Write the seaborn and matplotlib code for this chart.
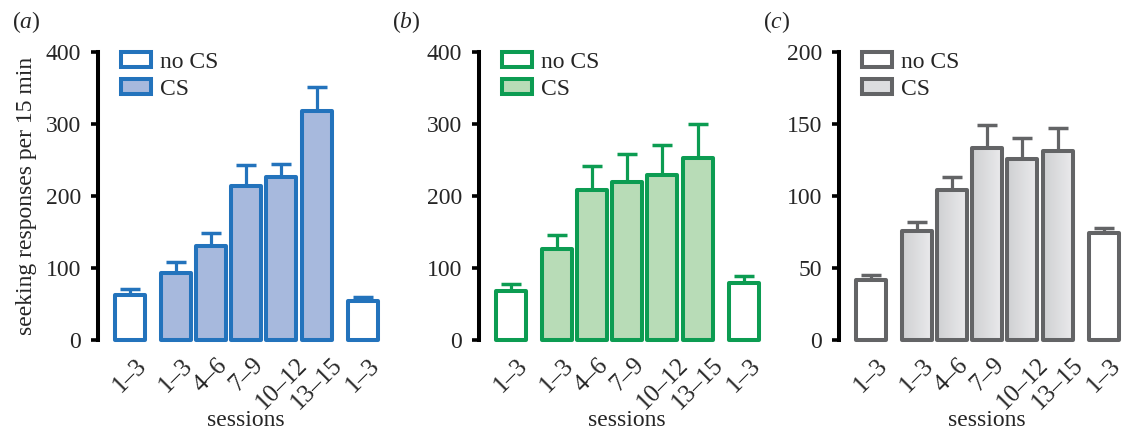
import matplotlib
matplotlib.use("Agg")
import matplotlib.pyplot as plt
from matplotlib.patches import Patch
from matplotlib.transforms import ScaledTranslation
import seaborn as sns
import numpy as np
import pandas as pd

# bars: no CS (first), CS sessions, no CS (last)
sessions = ["1–3", "1–3", "4–6", "7–9", "10–12", "13–15", "1–3"]
condition = ["no CS", "CS", "CS", "CS", "CS", "CS", "no CS"]

mean_a = [62, 93, 130, 214, 226, 318, 54]
sem_a = [9, 15, 18, 29, 19, 34, 6]
mean_b = [68, 127, 208, 219, 229, 253, 79]
sem_b = [10, 19, 34, 39, 42, 47, 10]
mean_c = [42, 76, 104, 133, 126, 131, 74]
sem_c = [3, 6, 9, 16, 14, 16, 4]

sns.set_style("white")
plt.rcParams['font.family'] = ['Liberation Serif', 'DejaVu Serif']
plt.rcParams['mathtext.fontset'] = 'custom'
plt.rcParams['mathtext.it'] = 'Liberation Serif:italic'
plt.rcParams['mathtext.rm'] = 'Liberation Serif'

# x positions, little gap between the no CS bars and the CS run
xpos = [0, 1.31, 2.31, 3.31, 4.31, 5.31, 6.62]

W, H = 1123, 432
fig = plt.figure(figsize=(W / 100, H / 100), dpi=100)

panels = [
    ("a", mean_a, sem_a, "#2373BC", "#A7B9DD", 400, 100, 98, 12),
    ("b", mean_b, sem_b, "#0C9C52", "#B8DCB7", 400, 100, 479, 392),
    ("c", mean_c, sem_c, "#636466", "#DCDDDF", 200, 50, 839, 763),
]
lw = 2.9

for letter, mean, sem, edge, fill, ymax, step, left, lab_x in panels:
    ax = fig.add_axes([left / W, (H - 340) / H, 281.6 / W, 288 / H])
    df = pd.DataFrame({'x': xpos, 'y': mean, 'cond': condition})
    sns.barplot(data=df, x='x', y='y', hue='cond',
                palette={'no CS': 'white', 'CS': fill}, saturation=1,
                native_scale=True, dodge=False, width=0.85, edgecolor=edge,
                linewidth=lw, errorbar=None, legend=False, ax=ax, zorder=2)
    ax.errorbar(xpos, mean, yerr=[np.zeros(len(mean)), sem], fmt='none',
                ecolor=edge, elinewidth=2.3, capsize=7.3, capthick=2.5, zorder=1)

    # grey panel: soft left-to-right gradient inside the CS bars
    if letter == 'c':
        grad = np.linspace(0, 1, 50).reshape(1, -1)
        cmap = matplotlib.colors.LinearSegmentedColormap.from_list('g', ['#CFD0D2', '#EAEAEC'])
        for p in ax.patches:
            if matplotlib.colors.to_hex(p.get_facecolor()) != '#ffffff':
                p.set_facecolor('none')
                bx, by = p.get_x(), p.get_y()
                im = ax.imshow(grad, cmap=cmap, aspect='auto', zorder=1.5,
                               extent=[bx, bx + p.get_width(), by, by + p.get_height()])
                im.set_clip_path(p)

    ax.set_xlim(-0.9, 7.1)
    ax.set_ylim(0, ymax)
    for p in ax.patches:
        p.set_clip_on(False)
        p.set_joinstyle('round')
    ax.set_yticks(np.arange(0, ymax + 1, step))
    ax.set_xticks(xpos)
    ax.set_xticklabels(sessions, rotation=45, ha='center', va='top', fontsize=18)
    off = ScaledTranslation(-5 / 100, 0, fig.dpi_scale_trans)
    for t in ax.get_xticklabels():
        t.set_transform(t.get_transform() + off)
    sns.despine(ax=ax, bottom=True)
    ax.spines['left'].set_linewidth(lw)
    ax.spines['left'].set_color('black')
    ax.tick_params(axis='y', direction='out', length=5, width=2.6, pad=7,
                   labelsize=17, left=True, color='black')
    ax.tick_params(axis='x', length=0, pad=10)
    ax.set_xlabel('')
    ax.set_ylabel('')
    ax.text((np.mean([xpos[0], xpos[-1]]) + 0.9) / 8, -0.28, 'sessions',
            transform=ax.transAxes, ha='center', va='center', fontsize=17)

    handles = [Patch(facecolor='white', edgecolor=edge, linewidth=lw, label='no CS'),
               Patch(facecolor=fill, edgecolor=edge, linewidth=lw, label='CS')]
    ax.legend(handles=handles, loc='upper left', bbox_to_anchor=(23 / 281.6, 1.0),
              frameon=False, fontsize=17, handlelength=1.25, handleheight=0.62,
              labelspacing=0.25, handletextpad=0.4, borderpad=0, borderaxespad=0)

    fig.text(lab_x / W, 1 - 22 / H, r'($\it{' + letter + '}$)', fontsize=17,
             ha='left', va='center')

    if letter == 'a':
        ax.set_ylabel('seeking responses per 15 min', fontsize=17)
        ax.yaxis.set_label_coords(-0.217, 0.5)

fig.savefig('out.png', dpi=100)
